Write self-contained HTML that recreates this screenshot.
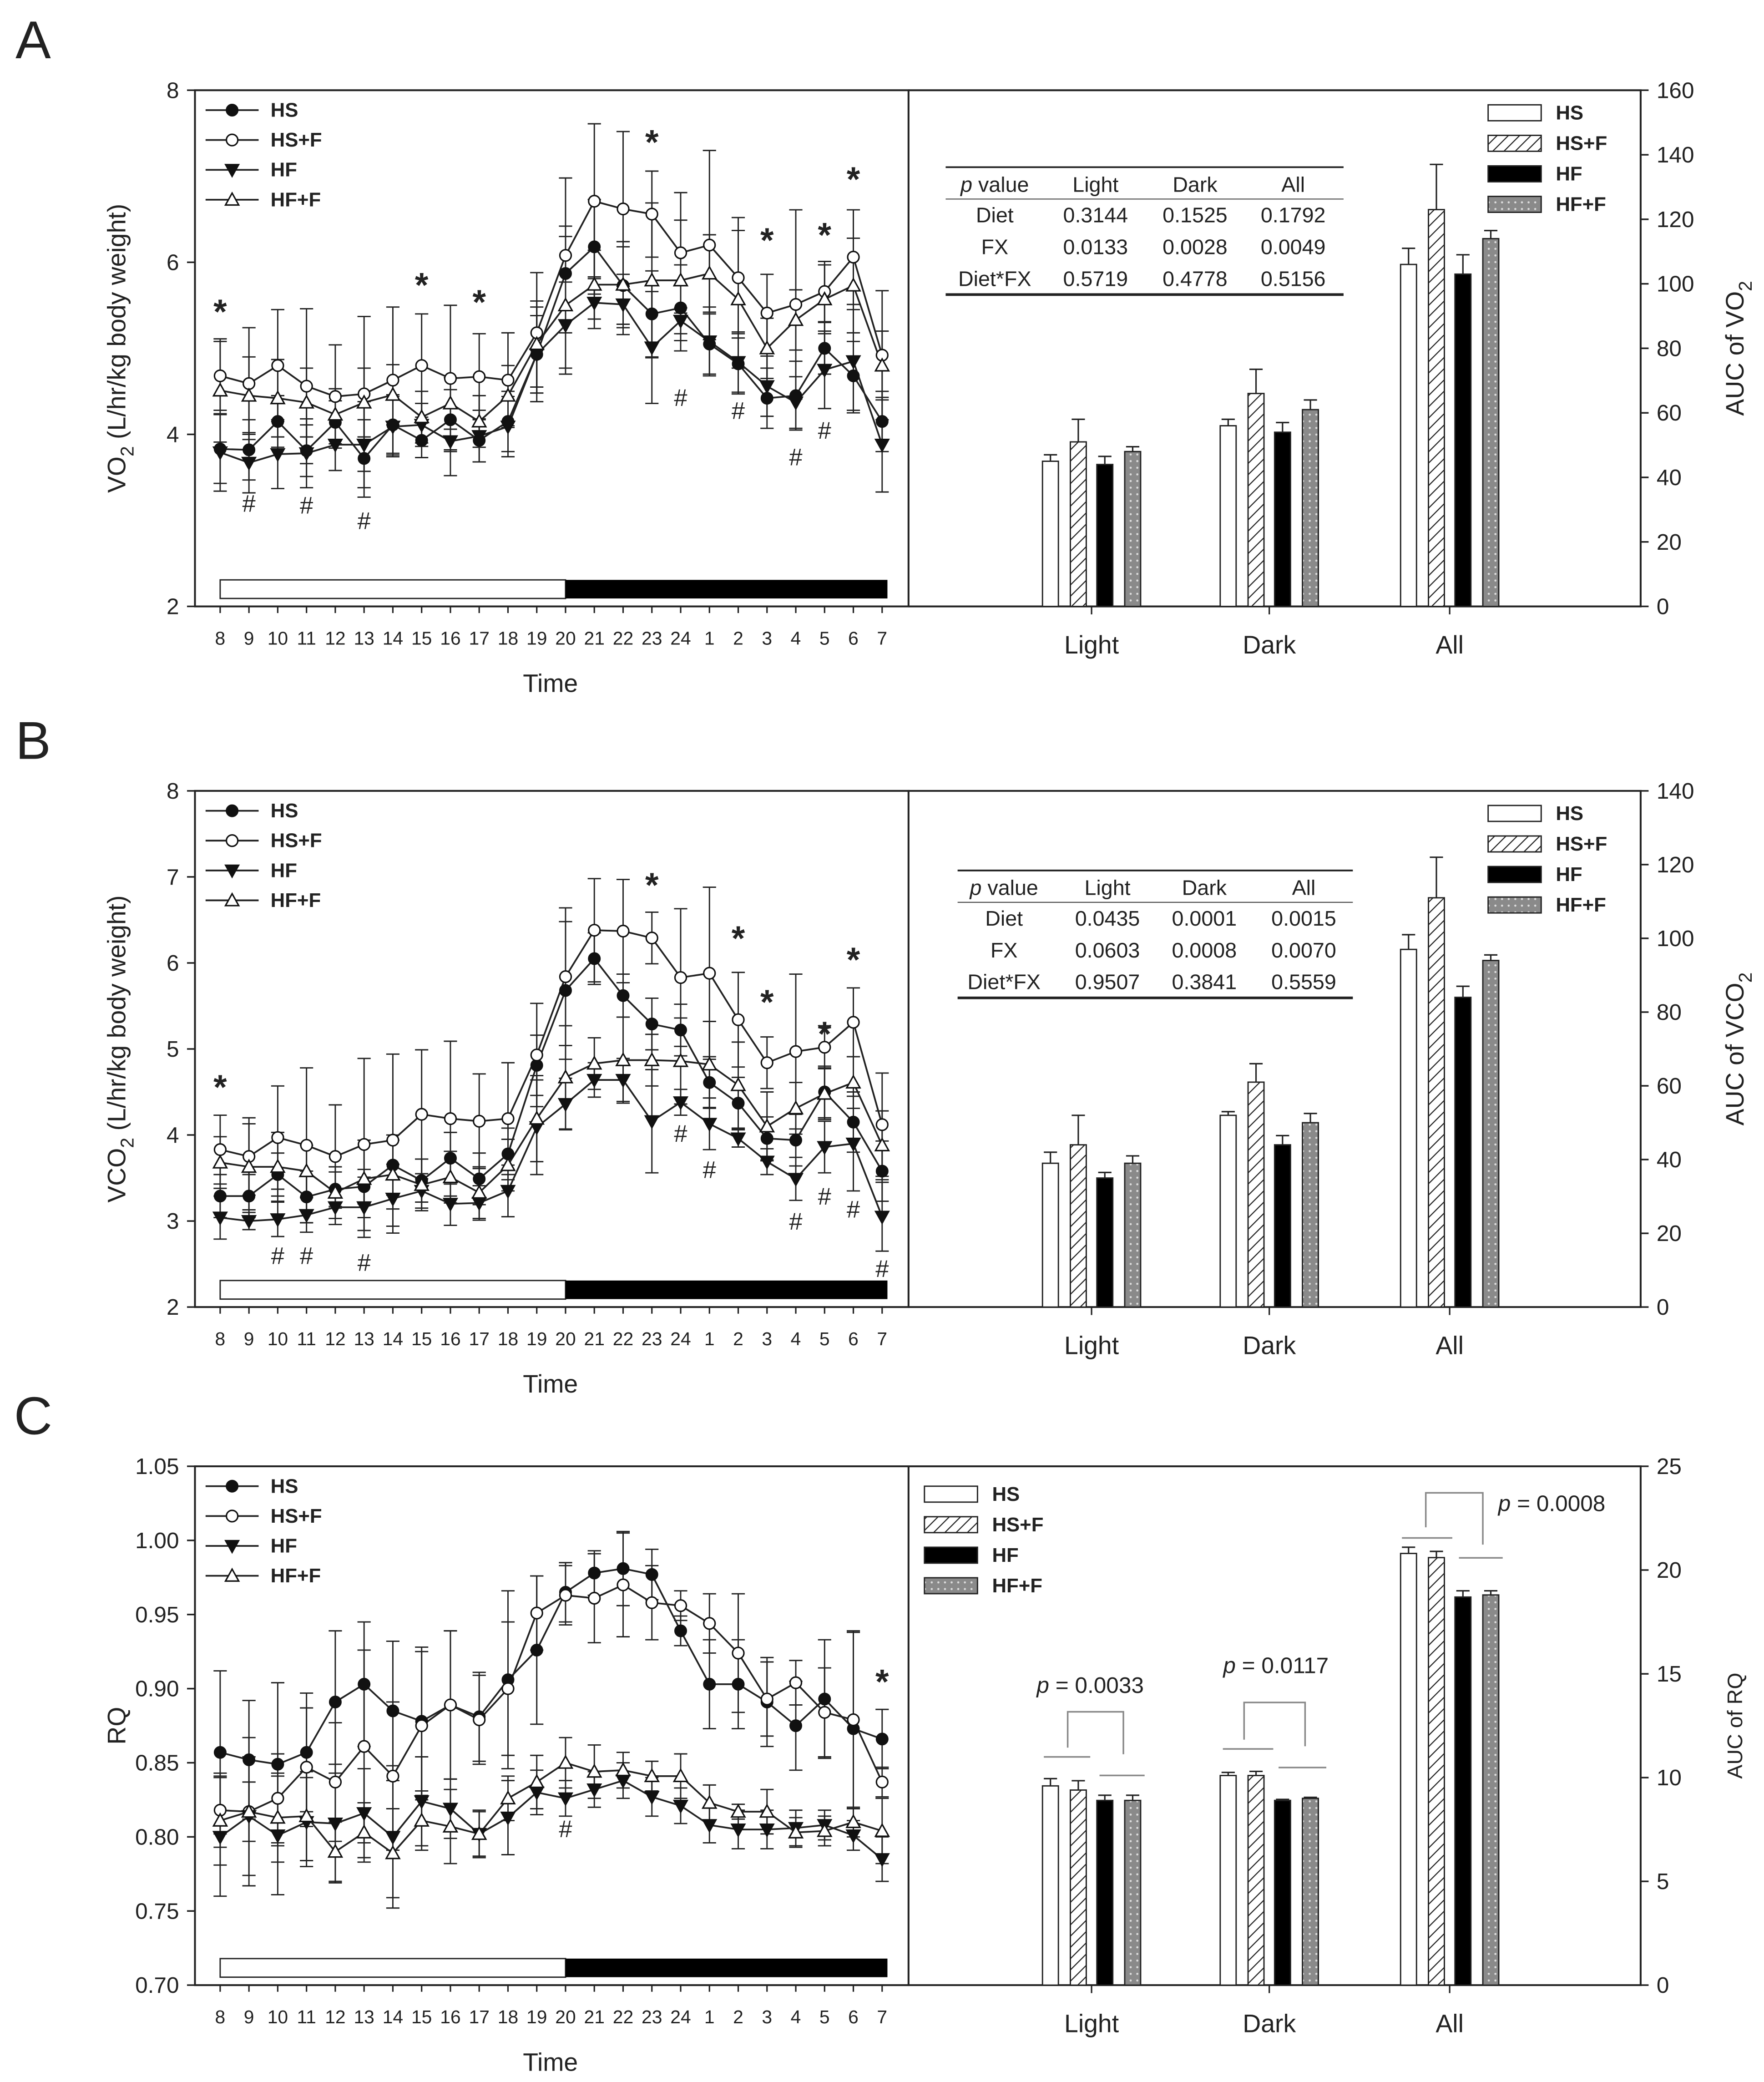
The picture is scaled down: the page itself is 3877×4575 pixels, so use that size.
<!DOCTYPE html>
<html><head><meta charset="utf-8"><style>
html,body{margin:0;padding:0;background:#fff}
svg{display:block}
text{font-family:"Liberation Sans",Arial,sans-serif;fill:#222}
</style></head><body>
<svg id="fig" width="3877" height="4575" viewBox="0 0 1330 1569" preserveAspectRatio="none" xmlns="http://www.w3.org/2000/svg">
<defs>
<pattern id="hatch" patternUnits="userSpaceOnUse" width="6" height="6" patternTransform="rotate(45)"><rect width="6" height="6" fill="#fff"/><line x1="0" y1="0" x2="0" y2="6" stroke="#222" stroke-width="1.6"/></pattern>
<pattern id="dots" patternUnits="userSpaceOnUse" width="5" height="5"><rect width="5" height="5" fill="#8a8a8a"/><circle cx="2.5" cy="2.5" r="0.8" fill="#ddd"/></pattern>
</defs>
<rect width="1330" height="1569" fill="#fff"/>
</svg>
<script>
const hours = ["8","9","10","11","12","13","14","15","16","17","18","19","20","21","22","23","24","1","2","3","4","5","6","7"];
const seriesNames = ["HS","HS+F","HF","HF+F"];
const barGroups = ["Light","Dark","All"];

// Panel A (VO2)
const aHS   = [3.83,3.82,4.15,3.81,4.14,3.72,4.11,3.93,4.17,3.93,4.15,4.93,5.87,6.18,5.73,5.40,5.47,5.05,4.82,4.42,4.45,5.00,4.68,4.15];
const aHSF  = [4.68,4.59,4.80,4.56,4.44,4.47,4.63,4.80,4.65,4.67,4.63,5.18,6.08,6.71,6.62,6.56,6.11,6.20,5.82,5.41,5.51,5.66,6.06,4.92];
const aHF   = [3.79,3.67,3.77,3.78,3.88,3.88,4.09,4.11,3.92,3.98,4.09,4.93,5.27,5.53,5.51,5.01,5.32,5.08,4.84,4.56,4.37,4.75,4.85,3.88];
const aHFF  = [4.51,4.45,4.42,4.37,4.23,4.37,4.46,4.20,4.36,4.15,4.45,5.05,5.50,5.74,5.74,5.79,5.79,5.87,5.57,5.00,5.33,5.57,5.73,4.80];
const aErrHS  = [0.4,0.35,0.3,0.3,0.25,0.45,0.35,0.2,0.35,0.25,0.35,0.45,0.55,0.55,0.45,0.5,0.5,0.35,0.35,0.35,0.4,0.3,0.4,0.35];
const aErrHSF = [0.4,0.65,0.65,0.9,0.6,0.9,0.85,0.6,0.85,0.5,0.55,0.7,0.9,0.9,0.9,0.5,0.7,1.1,0.7,0.45,1.1,0.35,0.55,0.75];
const aErrHF  = [0.45,0.35,0.4,0.4,0.3,0.5,0.35,0.25,0.4,0.3,0.35,0.55,0.5,0.3,0.35,0.65,0.15,0.4,0.35,0.35,0.3,0.45,0.6,0.55];
const aErrHFF = [0.6,0.45,0.45,0.4,0.3,0.4,0.35,0.3,0.3,0.3,0.35,0.5,0.8,0.4,0.5,0.9,0.7,0.45,0.8,0.35,0.35,0.4,0.55,0.4];
const aStarIdx = [0,7,9,15,19,21,22];
const aStarVal = [5.50,5.81,5.61,7.47,6.33,6.39,7.04];
const aHashIdx = [1,3,5,16,18,20,21];
const aHashVal = [3.19,3.17,2.99,4.42,4.27,3.73,4.04];
const aBarHS=[45,56,106], aBarHSF=[51,66,123], aBarHF=[44,54,103], aBarHFF=[48,61,114];
const aBarErrHS=[2,2,5], aBarErrHSF=[7,7.5,14], aBarErrHF=[2.5,3,6], aBarErrHFF=[1.5,3,2.5];
const aTable=[["Diet","0.3144","0.1525","0.1792"],["FX","0.0133","0.0028","0.0049"],["Diet*FX","0.5719","0.4778","0.5156"]];

// Panel B (VCO2)
const bHS   = [3.29,3.29,3.54,3.28,3.37,3.40,3.65,3.47,3.73,3.49,3.78,4.81,5.68,6.05,5.62,5.29,5.22,4.61,4.37,3.96,3.94,4.50,4.15,3.58];
const bHSF  = [3.83,3.75,3.97,3.88,3.75,3.89,3.94,4.24,4.19,4.16,4.19,4.93,5.84,6.38,6.37,6.29,5.83,5.88,5.34,4.84,4.97,5.02,5.31,4.12];
const bHF   = [3.04,3.00,3.02,3.07,3.16,3.16,3.26,3.35,3.20,3.21,3.35,4.09,4.36,4.64,4.64,4.16,4.38,4.13,3.96,3.69,3.49,3.86,3.90,3.05];
const bHFF  = [3.68,3.63,3.63,3.58,3.33,3.49,3.54,3.42,3.51,3.33,3.65,4.19,4.67,4.83,4.87,4.87,4.86,4.82,4.58,4.10,4.31,4.48,4.61,3.88];
const bErrHS  = [0.25,0.25,0.25,0.3,0.2,0.2,0.35,0.25,0.3,0.3,0.3,0.35,0.8,0.3,0.25,0.3,0.3,0.3,0.3,0.25,0.3,0.3,0.35,0.35];
const bErrHSF = [0.4,0.45,0.6,0.9,0.6,1.0,1.0,0.75,0.9,0.55,0.65,0.6,0.8,0.6,0.6,0.3,0.8,1.0,0.55,0.3,0.9,0.25,0.4,0.6];
const bErrHF  = [0.25,0.1,0.2,0.2,0.2,0.35,0.4,0.2,0.25,0.2,0.3,0.55,0.3,0.2,0.25,0.6,0.15,0.3,0.1,0.15,0.25,0.3,0.55,0.4];
const bErrHFF = [0.3,0.5,0.4,0.3,0.3,0.45,0.4,0.3,0.3,0.3,0.3,0.5,0.6,0.3,0.5,0.3,0.5,0.5,0.5,0.4,0.3,0.3,0.3,0.4];
const bStarIdx = [0,15,18,19,21,22];
const bStarVal = [4.63,6.98,6.36,5.62,5.25,6.11];
const bHashIdx = [2,3,5,16,17,20,21,22,23];
const bHashVal = [2.59,2.59,2.51,4.01,3.59,2.99,3.28,3.13,2.44];
const bBarHS=[39,52,97], bBarHSF=[44,61,111], bBarHF=[35,44,84], bBarHFF=[39,50,94];
const bBarErrHS=[3,1,4], bBarErrHSF=[8,5,11], bBarErrHF=[1.5,2.5,3], bBarErrHFF=[2,2.5,1.5];
const bTable=[["Diet","0.0435","0.0001","0.0015"],["FX","0.0603","0.0008","0.0070"],["Diet*FX","0.9507","0.3841","0.5559"]];

// Panel C (RQ)
const cHS   = [0.857,0.852,0.849,0.857,0.891,0.903,0.885,0.878,0.889,0.881,0.906,0.926,0.965,0.978,0.981,0.977,0.939,0.903,0.903,0.891,0.875,0.893,0.873,0.866];
const cHSF  = [0.818,0.817,0.826,0.847,0.837,0.861,0.841,0.875,0.889,0.879,0.900,0.951,0.963,0.961,0.970,0.958,0.956,0.944,0.924,0.893,0.904,0.884,0.879,0.837];
const cHF   = [0.800,0.814,0.801,0.810,0.809,0.816,0.800,0.824,0.819,0.802,0.813,0.830,0.826,0.832,0.838,0.827,0.821,0.808,0.805,0.805,0.806,0.808,0.801,0.785];
const cHFF  = [0.811,0.817,0.813,0.814,0.790,0.803,0.789,0.811,0.807,0.802,0.826,0.837,0.850,0.844,0.845,0.841,0.841,0.823,0.817,0.817,0.803,0.804,0.810,0.804];
const cErrHS  = [0.055,0.04,0.055,0.04,0.048,0.042,0.047,0.05,0.05,0.03,0.06,0.05,0.02,0.015,0.025,0.017,0.01,0.03,0.03,0.03,0.03,0.04,0.065,0.02];
const cErrHSF = [0.025,0.05,0.03,0.04,0.04,0.065,0.05,0.05,0.05,0.03,0.045,0.025,0.02,0.03,0.035,0.025,0.01,0.02,0.04,0.025,0.015,0.03,0.06,0.01];
const cErrHF  = [0.04,0.04,0.04,0.03,0.04,0.03,0.048,0.03,0.02,0.016,0.025,0.015,0.012,0.012,0.012,0.013,0.012,0.012,0.013,0.013,0.012,0.01,0.01,0.015];
const cErrHFF = [0.03,0.02,0.03,0.03,0.02,0.02,0.03,0.02,0.025,0.015,0.015,0.018,0.017,0.018,0.012,0.01,0.015,0.012,0.005,0.015,0.01,0.01,0.01,0.022];
const cStarIdx = [23];
const cStarVal = [0.909];
const cHashIdx = [12];
const cHashVal = [0.805];
const cBarHS=[9.6,10.1,20.8], cBarHSF=[9.4,10.1,20.6], cBarHF=[8.9,8.9,18.7], cBarHFF=[8.9,9.0,18.8];
const cBarErrHS=[0.35,0.15,0.3], cBarErrHSF=[0.45,0.2,0.3], cBarErrHF=[0.25,0.05,0.3], cBarErrHFF=[0.25,0.05,0.2];

const NS="http://www.w3.org/2000/svg";
const svg=document.getElementById('fig');
function mk(tag,attrs,parent){const e=document.createElementNS(NS,tag);for(const k in attrs)e.setAttribute(k,attrs[k]);(parent||svg).appendChild(e);return e;}
function txt(s,x,y,size,anchor,parent,extra){const t=mk('text',Object.assign({x:x,y:y,'font-size':size,'text-anchor':anchor||'middle','dominant-baseline':'central'},extra||{}),parent);t.textContent=s;return t;}

const L=147,M=685,R=1237;
const x0=166,dx=21.7;
function xAt(i){return x0+i*dx;}

function marker(g,kind,x,y){
  const r=4.3;let e;
  if(kind===0) e=mk('circle',{cx:x,cy:y,r:r,fill:'#111',stroke:'#111','stroke-width':1},g);
  else if(kind===1) e=mk('circle',{cx:x,cy:y,r:r,fill:'#fff',stroke:'#111','stroke-width':1.1},g);
  else if(kind===2) e=mk('polygon',{points:`${x-5},${y-4} ${x+5},${y-4} ${x},${y+5}`,fill:'#111',stroke:'#111'},g);
  else e=mk('polygon',{points:`${x-5},${y+4} ${x+5},${y+4} ${x},${y-5}`,fill:'#fff',stroke:'#111','stroke-width':1.1},g);
  return e;
}

function panel(cfg){
  const top=cfg.top,bot=cfg.bot;
  const yv=v=>bot-(v-cfg.ymin)/(cfg.ymax-cfg.ymin)*(bot-top);
  const yb=v=>bot-v/cfg.bmax*(bot-top);
  const g=mk('g',{});
  
  
  const lt=txt(cfg.letter,25,top-38,40,'middle',g);
  
  
  // frames
  const fr=mk('rect',{x:L,y:top,width:M-L,height:bot-top,fill:'none',stroke:'#222','stroke-width':1.4},g);
  
  
  const fr2=mk('path',{d:`M${M},${top}H${R}V${bot}H${M}`,fill:'none',stroke:'#222','stroke-width':1.4},g);
  
  
  // left y ticks
  cfg.yticks.forEach((v,i)=>{
    const y=yv(v);
    mk('line',{x1:L-6,x2:L,y1:y,y2:y,stroke:'#222','stroke-width':1.2},g);
    const t=txt(cfg.ylabels[i],L-12,y,17,'end',g);
    
    
  });
  const yt=txt('',88,(top+bot)/2,19,'middle',g,{transform:`rotate(-90 88 ${(top+bot)/2})`});
  yt.innerHTML=cfg.ytitle;
  
  
  // x ticks
  hours.forEach((h,i)=>{
    mk('line',{x1:xAt(i),x2:xAt(i),y1:bot,y2:bot+5,stroke:'#222','stroke-width':1.1},g);
    const t=txt(h,xAt(i),bot+24,14,'middle',g);
    
    
  });
  const xt=txt('Time',415,bot+58,19,'middle',g);
  
  
  // light/dark bar
  const lb=mk('rect',{x:xAt(0),y:bot-20,width:xAt(12)-xAt(0),height:14,fill:'#fff',stroke:'#222','stroke-width':1},g);
  
  
  const db=mk('rect',{x:xAt(12),y:bot-20,width:xAt(23)+4-xAt(12),height:14,fill:'#000'},g);
  
  
  // series
  cfg.series.forEach((s,k)=>{
    const sg=mk('g',{},g);
    
    
    s.forEach((v,i)=>{
      const e=cfg.errs[k][i];
      const x=xAt(i);
      mk('line',{x1:x,x2:x,y1:yv(v-e),y2:yv(v+e),stroke:'#222','stroke-width':1},sg);
      mk('line',{x1:x-5,x2:x+5,y1:yv(v+e),y2:yv(v+e),stroke:'#222','stroke-width':1},sg);
      mk('line',{x1:x-5,x2:x+5,y1:yv(v-e),y2:yv(v-e),stroke:'#222','stroke-width':1},sg);
    });
    const pts=s.map((v,i)=>xAt(i)+','+yv(v)).join(' ');
    mk('polyline',{points:pts,fill:'none',stroke:'#222','stroke-width':1.3},sg);
  });
  cfg.series.forEach((s,k)=>{
    s.forEach((v,i)=>{
      const m=marker(g,k,xAt(i),yv(v));
      
      
    });
  });
  cfg.starIdx.forEach((idx,i)=>{
    const t=txt('*',xAt(idx),yv(cfg.starVal[i])+5,26,'middle',g,{'font-weight':'bold'});
    
    
  });
  cfg.hashIdx.forEach((idx,i)=>{
    const t=txt('#',xAt(idx),yv(cfg.hashVal[i]),18,'middle',g);
    
    
  });
  // line legend
  seriesNames.forEach((n,k)=>{
    const y=top+15+k*22.5;
    mk('line',{x1:155,x2:195,y1:y,y2:y,stroke:'#222','stroke-width':1.3},g);
    marker(g,k,175,y);
    const t=txt(n,204,y,15,'start',g,{'font-weight':'bold'});
    
    
  });
  // right axis
  cfg.bticks.forEach(v=>{
    const y=yb(v);
    mk('line',{x1:R,x2:R+6,y1:y,y2:y,stroke:'#222','stroke-width':1.2},g);
    const t=txt(String(v),R+12,y,17,'start',g);
    
    
  });
  const bt=txt('',1308,(top+bot)/2,cfg.btitleSize,'middle',g,{transform:`rotate(-90 1308 ${(top+bot)/2})`});
  bt.innerHTML=cfg.btitle;
  
  
  // bars
  const centers=[823,957,1093],offs=[-31,-10,10,31],fills=['#fff','url(#hatch)','#000','url(#dots)'];
  barGroups.forEach((gname,gi)=>{
    mk('line',{x1:centers[gi],x2:centers[gi],y1:bot,y2:bot+6,stroke:'#222','stroke-width':1.1},g);
    const t=txt(gname,centers[gi],bot+29,19,'middle',g);
    
    
    cfg.bars.forEach((arr,k)=>{
      const v=arr[gi],e=cfg.barErrs[k][gi],x=centers[gi]+offs[k];
      mk('line',{x1:x,x2:x,y1:yb(v),y2:yb(v+e),stroke:'#222','stroke-width':1.1},g);
      mk('line',{x1:x-5,x2:x+5,y1:yb(v+e),y2:yb(v+e),stroke:'#222','stroke-width':1.1},g);
      const b=mk('rect',{x:x-6,y:yb(v),width:12,height:bot-yb(v),fill:fills[k],stroke:'#222','stroke-width':1},g);
      
      
    });
  });
  // bar legend
  seriesNames.forEach((n,k)=>{
    const y=cfg.blegY+k*23;
    const r=mk('rect',{x:cfg.blegX,y:y-6,width:40,height:12,fill:fills[k],stroke:'#222','stroke-width':1},g);
    
    
    const t=txt(n,cfg.blegX+51,y,15,'start',g,{'font-weight':'bold'});
    
    
  });
  // p-value table
  if(cfg.table){
    const T=cfg.tpos, tg=mk('g',{},g);
    
    
    mk('line',{x1:T.x1,x2:T.x2,y1:T.y,y2:T.y,stroke:'#222','stroke-width':1.3},tg);
    mk('line',{x1:T.x1,x2:T.x2,y1:T.y+24,y2:T.y+24,stroke:'#555','stroke-width':0.8},tg);
    mk('line',{x1:T.x1,x2:T.x2,y1:T.y+96,y2:T.y+96,stroke:'#222','stroke-width':2},tg);
    const hdr=txt('',T.cols[0],T.y+13,16,'middle',tg);hdr.innerHTML='<tspan font-style="italic">p</tspan> value';
    ['Light','Dark','All'].forEach((h,i)=>txt(h,T.cols[i+1],T.y+13,16,'middle',tg));
    cfg.table.forEach((row,r)=>row.forEach((c,i)=>txt(c,T.cols[i],T.y+36+r*24,16,'middle',tg)));
  }
  return {yb};
}

panel({id:'vo2',letter:'A',top:68,bot:457,ymin:2,ymax:8,yticks:[2,4,6,8],ylabels:['2','4','6','8'],
  ytitle:'VO<tspan baseline-shift="sub" font-size="14">2</tspan> (L/hr/kg body weight)',
  series:[aHS,aHSF,aHF,aHFF],errs:[aErrHS,aErrHSF,aErrHF,aErrHFF],
  starIdx:aStarIdx,starVal:aStarVal,hashIdx:aHashIdx,hashVal:aHashVal,
  bmax:160,bticks:[0,20,40,60,80,100,120,140,160],btitle:'AUC of VO<tspan baseline-shift="sub" font-size="14">2</tspan>',btitleSize:19,
  bars:[aBarHS,aBarHSF,aBarHF,aBarHFF],barErrs:[aBarErrHS,aBarErrHSF,aBarErrHF,aBarErrHFF],
  blegX:1122,blegY:85,table:aTable,tpos:{x1:713,x2:1013,y:126,cols:[750,826,901,975]}});

panel({id:'vco2',letter:'B',top:596,bot:985,ymin:2,ymax:8,yticks:[2,3,4,5,6,7,8],ylabels:['2','3','4','5','6','7','8'],
  ytitle:'VCO<tspan baseline-shift="sub" font-size="14">2</tspan> (L/hr/kg body weight)',
  series:[bHS,bHSF,bHF,bHFF],errs:[bErrHS,bErrHSF,bErrHF,bErrHFF],
  starIdx:bStarIdx,starVal:bStarVal,hashIdx:bHashIdx,hashVal:bHashVal,
  bmax:140,bticks:[0,20,40,60,80,100,120,140],btitle:'AUC of VCO<tspan baseline-shift="sub" font-size="14">2</tspan>',btitleSize:19,
  bars:[bBarHS,bBarHSF,bBarHF,bBarHFF],barErrs:[bBarErrHS,bBarErrHSF,bBarErrHF,bBarErrHFF],
  blegX:1122,blegY:613,table:bTable,tpos:{x1:722,x2:1020,y:656,cols:[757,835,908,983]}});

const pc=panel({id:'rq',letter:'C',top:1105,bot:1496,ymin:0.70,ymax:1.05,yticks:[0.70,0.75,0.80,0.85,0.90,0.95,1.00,1.05],ylabels:['0.70','0.75','0.80','0.85','0.90','0.95','1.00','1.05'],
  ytitle:'RQ',
  series:[cHS,cHSF,cHF,cHFF],errs:[cErrHS,cErrHSF,cErrHF,cErrHFF],
  starIdx:cStarIdx,starVal:cStarVal,hashIdx:cHashIdx,hashVal:cHashVal,
  bmax:25,bticks:[0,5,10,15,20,25],btitle:'AUC of RQ',btitleSize:16,
  bars:[cBarHS,cBarHSF,cBarHF,cBarHFF],barErrs:[cBarErrHS,cBarErrHSF,cBarErrHF,cBarErrHFF],
  blegX:697,blegY:1126,table:null});

// significance brackets for RQ
function bracket(name,cx,l1,l2,l3,ly1,ly2,bx1,bx2,by,bTop,by2,ptxt,px,py){
  const g=mk('g',{});
  
  
  mk('line',{x1:l1[0],x2:l1[1],y1:ly1,y2:ly1,stroke:'#888','stroke-width':1.2},g);
  mk('line',{x1:l2[0],x2:l2[1],y1:ly2,y2:ly2,stroke:'#888','stroke-width':1.2},g);
  mk('path',{d:`M${bx1},${by}V${bTop}H${bx2}V${by2}`,fill:'none',stroke:'#888','stroke-width':1.2},g);
  const t=txt('',px,py,17,'middle',g);t.innerHTML='<tspan font-style="italic">p</tspan> = '+ptxt;
}
bracket('light-p-value-bracket',0,[787,822],[829,863],0,1324,1338,805,847,1317,1290,1322,'0.0033',822,1270);
bracket('dark-p-value-bracket',0,[922,960],[964,1000],0,1318,1332,938,984,1311,1283,1316,'0.0117',962,1255);
bracket('all-p-value-bracket',0,[1057,1095],[1100,1133],0,1159,1174,1075,1118,1151,1125,1164,'0.0008',1170,1133);
</script>
</body></html>
